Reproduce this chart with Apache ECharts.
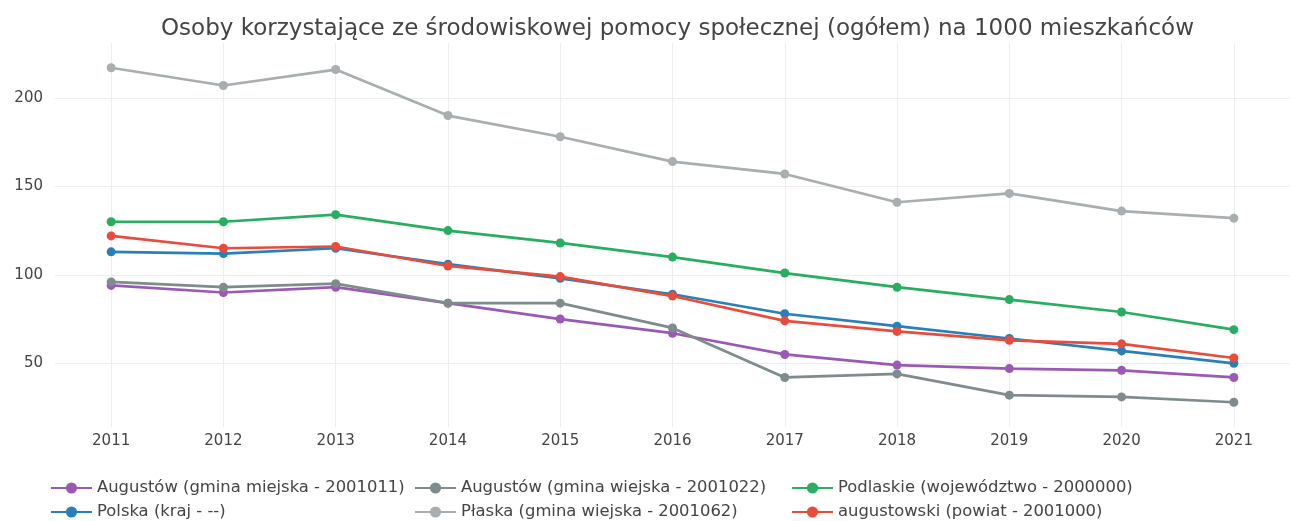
<!DOCTYPE html>
<html>
<head>
<meta charset="utf-8">
<script src="https://cdn.jsdelivr.net/npm/echarts@6/dist/echarts.min.js"></script>
<style>
  html, body { margin: 0; padding: 0; background: #fff; }
  #chart { width: 1292px; height: 521px; }
</style>
</head>
<body>
<div id="chart"></div>
<script>
// lata
const years = ['2011', '2012', '2013', '2014', '2015', '2016', '2017', '2018', '2019', '2020', '2021']

// wartości na 1000 mieszkańców
const augustowMiejska = [94, 90, 93, 84, 75, 67, 55, 49, 47, 46, 42]
const augustowWiejska = [96, 93, 95, 84, 84, 70, 42, 44, 32, 31, 28]
const podlaskie = [130, 130, 134, 125, 118, 110, 101, 93, 86, 79, 69]
const polska = [113, 112, 115, 106, 98, 89, 78, 71, 64, 57, 50]
const plaska = [217, 207, 216, 190, 178, 164, 157, 141, 146, 136, 132]
const augustowski = [122, 115, 116, 105, 99, 88, 74, 68, 63, 61, 53]

const names = [
  'Augustów (gmina miejska - 2001011)',
  'Augustów (gmina wiejska - 2001022)',
  'Podlaskie (województwo - 2000000)',
  'Polska (kraj - --)',
  'Płaska (gmina wiejska - 2001062)',
  'augustowski (powiat - 2001000)'
]
const colors = ['#9b59b6', '#7f8c8d', '#27ae60', '#2980b9', '#a9aeb1', '#e74c3c']
const values = [augustowMiejska, augustowWiejska, podlaskie, polska, plaska, augustowski]

const font = 'DejaVu Sans, Verdana, sans-serif'

const chart = echarts.init(document.getElementById('chart'))

const series = names.map((name, i) => ({
  name: name,
  type: 'line',
  data: values[i],
  symbol: 'circle',
  symbolSize: 9,
  itemStyle: { color: colors[i] },
  lineStyle: { width: 2.7, color: colors[i] },
  emphasis: { disabled: true }
}))

// legenda w trzech kolumnach, po dwa wpisy
const legendCommon = {
  orient: 'vertical',
  top: 480,
  height: 60,
  padding: 0,
  itemWidth: 41,
  itemHeight: 14,
  itemGap: 8,
  textStyle: { fontFamily: font, fontSize: 16.4, color: '#444' }
}

chart.setOption({
  animation: false,
  color: colors,
  title: {
    text: 'Osoby korzystające ze środowiskowej pomocy społecznej (ogółem) na 1000 mieszkańców',
    left: 156,
    top: 13,
    textStyle: { fontFamily: font, fontSize: 23, fontWeight: 'normal', color: '#444' }
  },
  legend: [
    Object.assign({ left: 50, data: [names[0], names[3]] }, legendCommon),
    Object.assign({ left: 414, data: [names[1], names[4]] }, legendCommon),
    Object.assign({ left: 791, data: [names[2], names[5]] }, legendCommon)
  ],
  grid: { left: 55, right: 2, top: 43, bottom: 94 },
  xAxis: {
    type: 'category',
    data: years,
    boundaryGap: true,
    axisLine: { show: false },
    axisTick: { show: false, alignWithLabel: true },
    axisLabel: { fontFamily: font, fontSize: 15, color: '#444', margin: 7, interval: 0 },
    // pionowe linie siatki na latach (środek kategorii)
    splitLine: { show: true, alignWithLabel: true, lineStyle: { color: '#eee', width: 1 } }
  },
  yAxis: {
    type: 'value',
    min: 14,
    max: 231,
    splitNumber: 4,
    axisLine: { show: false },
    axisTick: { show: false },
    axisLabel: {
      fontFamily: font, fontSize: 15, color: '#444', margin: 12,
      showMinLabel: false, showMaxLabel: false
    },
    // brzegowe linie przezroczyste
    splitLine: { lineStyle: { color: ['transparent', '#eee', '#eee', '#eee', '#eee', 'transparent'], width: 1 } }
  },
  series: series
})
</script>
</body>
</html>
